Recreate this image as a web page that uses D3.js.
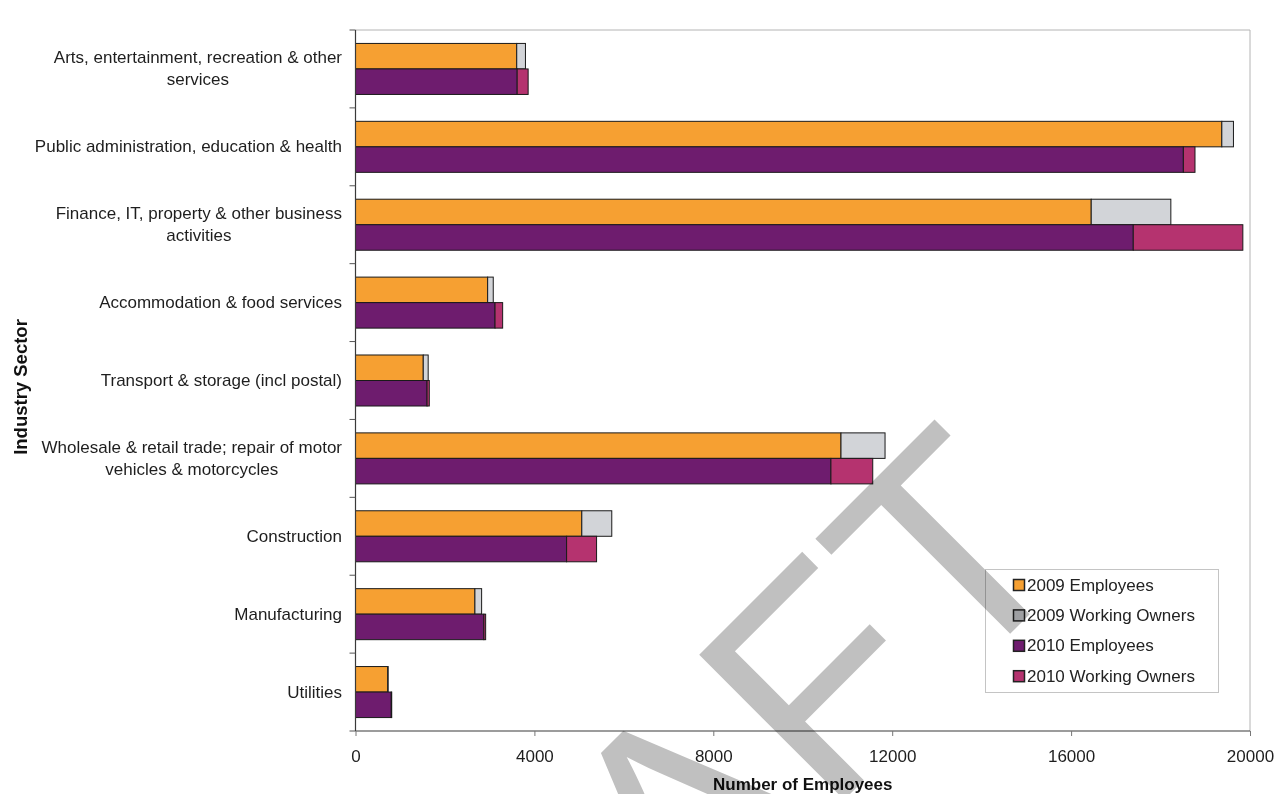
<!DOCTYPE html>
<html>
<head>
<meta charset="utf-8">
<script src="https://cdn.jsdelivr.net/npm/d3@7"></script>
<style>
  html, body { margin: 0; padding: 0; background: #ffffff; }
  svg { display: block; }
  text { font-family: "Liberation Sans", Arial, sans-serif; }
</style>
</head>
<body>
<svg id="chart" width="1275" height="794"></svg>
<script>
// ---- data ----
const categories = [
  "Arts, entertainment, recreation & other\nservices",
  "Public administration, education & health",
  "Finance, IT, property & other business\nactivities",
  "Accommodation & food services",
  "Transport & storage (incl postal)",
  "Wholesale & retail trade; repair of motor\nvehicles & motorcycles",
  "Construction",
  "Manufacturing",
  "Utilities"
];
const employees2009 = [3605, 19370, 16450, 2955, 1515, 10855, 5060, 2670, 720];
const owners2009    = [195,  260,   1780,  125,  110,  985,   670,  150,  10];
const employees2010 = [3615, 18510, 17390, 3120, 1600, 10630, 4720, 2870, 800];
const owners2010    = [245,  260,   2450,  170,  50,   935,   670,  40,   10];
const xTicks = [0, 4000, 8000, 12000, 16000, 20000];
const seriesNames = ["2009 Employees", "2009 Working Owners", "2010 Employees", "2010 Working Owners"];
const seriesColors = ["#F6A032", "#D2D4D8", "#6E1C6E", "#B5336F"];
const years = ["2009", "2010"];

// ---- layout ----
const svg = d3.select("#chart");
const plot = { left: 355.5, right: 1250, top: 30, bottom: 731 };

const x = d3.scaleLinear().domain([0, 20000]).range([plot.left, plot.right]);
const y = d3.scaleBand().domain(d3.range(categories.length))
  .range([plot.top, plot.bottom]).paddingInner(0.345).paddingOuter(0.1725);
const yYear = d3.scaleBand().domain(years).range([0, y.bandwidth()]);

// plot border (top/right)
svg.append("line").attr("x1", plot.left).attr("x2", plot.right).attr("y1", plot.top).attr("y2", plot.top)
  .attr("stroke", "#b4b4b4").attr("stroke-width", 1);
svg.append("line").attr("x1", plot.right).attr("x2", plot.right).attr("y1", plot.top).attr("y2", plot.bottom)
  .attr("stroke", "#b4b4b4").attr("stroke-width", 1);

// bars
const rows = categories.map((c, i) => ({
  i,
  segs: [
    { year: "2009", s: 0, x0: 0, x1: employees2009[i] },
    { year: "2009", s: 1, x0: employees2009[i], x1: employees2009[i] + owners2009[i] },
    { year: "2010", s: 2, x0: 0, x1: employees2010[i] },
    { year: "2010", s: 3, x0: employees2010[i], x1: employees2010[i] + owners2010[i] }
  ]
}));

const gBars = svg.append("g");
rows.forEach(r => {
  gBars.selectAll(null).data(r.segs.filter(d => d.x1 > d.x0)).enter().append("rect")
    .attr("x", d => x(d.x0))
    .attr("y", d => y(r.i) + yYear(d.year))
    .attr("width", d => x(d.x1) - x(d.x0))
    .attr("height", yYear.bandwidth())
    .attr("fill", d => seriesColors[d.s])
    .attr("stroke", "#1a1a1a")
    .attr("stroke-width", 1);
});

// y axis line and ticks at category boundaries
svg.append("line").attr("x1", plot.left).attr("x2", plot.left).attr("y1", plot.top).attr("y2", plot.bottom)
  .attr("stroke", "#3a3a3a").attr("stroke-width", 1.2);
const step = y.step();
svg.append("g").selectAll("line").data(d3.range(categories.length + 1)).enter().append("line")
  .attr("x1", plot.left - 6).attr("x2", plot.left)
  .attr("y1", d => plot.top + d * step).attr("y2", d => plot.top + d * step)
  .attr("stroke", "#555").attr("stroke-width", 1);

// category labels
const gLab = svg.append("g").attr("font-size", 17).attr("fill", "#1e1e1e");
categories.forEach((c, i) => {
  const lines = c.split("\n");
  const cy = y(i) + y.bandwidth() / 2;
  const lh = 22;
  const t = gLab.append("text").attr("text-anchor", "middle");
  const spans = lines.map((ln, k) => t.append("tspan")
    .attr("y", cy + (k - (lines.length - 1) / 2) * lh)
    .attr("dominant-baseline", "central")
    .text(ln));
  let maxW = 0;
  spans.forEach(s => { maxW = Math.max(maxW, s.node().getComputedTextLength()); });
  const right = 342;
  spans.forEach(s => s.attr("x", right - maxW / 2));
});

// x axis
svg.append("line").attr("x1", plot.left).attr("x2", plot.right).attr("y1", plot.bottom).attr("y2", plot.bottom)
  .attr("stroke", "#3a3a3a").attr("stroke-width", 1.2);
const xAxis = svg.append("g").attr("transform", `translate(0,${plot.bottom})`)
  .call(d3.axisBottom(x).tickValues(xTicks).tickFormat(d3.format("d")).tickSize(5).tickPadding(14));
xAxis.select(".domain").remove();
xAxis.selectAll(".tick line").attr("stroke", "#777");
xAxis.selectAll(".tick text").attr("font-size", 17).attr("fill", "#1e1e1e")
  .attr("font-family", "Liberation Sans, Arial, sans-serif");

// axis titles
svg.append("text").attr("x", (plot.left + plot.right) / 2).attr("y", 790)
  .attr("text-anchor", "middle")
  .attr("font-size", 17).attr("font-weight", "bold").attr("fill", "#111")
  .text("Number of Employees");
svg.append("text").attr("transform", "translate(20,387) rotate(-90)")
  .attr("text-anchor", "middle").attr("dominant-baseline", "central")
  .attr("font-size", 18.5).attr("font-weight", "bold").attr("fill", "#111")
  .text("Industry Sector");

// legend
const lg = svg.append("g");
lg.append("rect").attr("x", 985.5).attr("y", 569.5).attr("width", 233).attr("height", 123)
  .attr("fill", "#ffffff").attr("stroke", "#c4c4c4").attr("stroke-width", 1);
seriesNames.forEach((n, k) => {
  const cy = 585 + k * 30.4;
  lg.append("rect").attr("x", 1013.5).attr("y", cy - 5.5).attr("width", 11).attr("height", 11)
    .attr("fill", seriesColors[k]).attr("stroke", "#222").attr("stroke-width", 1.5);
  lg.append("text").attr("x", 1027).attr("y", cy).attr("dominant-baseline", "central")
    .attr("font-size", 17).attr("fill", "#222").text(n);
});

// DRAFT watermark on top, multiply blend
svg.append("text").text("DRAFT")
  .attr("transform", "translate(382,1262) rotate(-45)")
  .attr("font-size", 298)
  .attr("fill", "#c0c0c0")
  .style("mix-blend-mode", "multiply");
</script>
</body>
</html>
